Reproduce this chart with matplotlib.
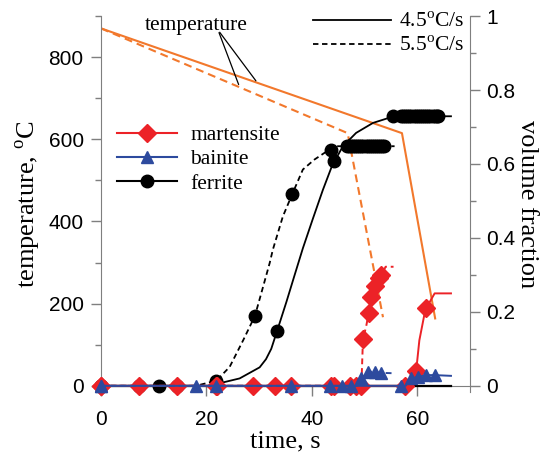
import matplotlib
matplotlib.use('Agg')
from matplotlib import pyplot as plt
from matplotlib.lines import Line2D
from matplotlib.ticker import MultipleLocator, FuncFormatter

########################################################################################################################
# Dados lidos do grafico
# temperatura (eixo esquerdo)
t_temp45 = [0, 57.1, 63.4]
temp45 = [870, 615, 164]
t_temp55 = [0, 46.8, 53.5]
temp55 = [870, 615, 167]

# ferrita - linhas
t_fer45 = [0, 21.9, 22.5, 26.3, 30.1, 31.3, 32.3, 33.4, 35.2, 36.7, 38.3, 40.2, 42.1, 43.7, 44.3, 45.9, 48.4, 51.6,
           54.7, 55.4, 57.0, 64.2, 66.4]
f_fer45 = [0, 0, 0.007, 0.02, 0.05, 0.072, 0.1, 0.148, 0.228, 0.298, 0.372, 0.452, 0.53, 0.59, 0.607, 0.648, 0.684,
           0.711, 0.725, 0.729, 0.729, 0.729, 0.729]
t_fer55 = [0, 18.0, 21.9, 24.4, 27.0, 29.2, 30.4, 32.0, 32.6, 34.5, 36.3, 38.3, 40.5, 42.4, 43.7, 44.6, 46.6, 53.7,
           55.7]
f_fer55 = [0, 0, 0.014, 0.051, 0.124, 0.189, 0.25, 0.332, 0.368, 0.458, 0.519, 0.585, 0.612, 0.63, 0.639, 0.648,
           0.648, 0.648, 0.648]
# ferrita - marcadores
mt_fer45 = [0, 11.0, 21.9, 33.4, 44.3, 55.4, 56.9, 57.3, 57.7, 58.1, 58.5, 58.9, 59.3, 59.7, 60.1, 60.5, 60.9, 61.3,
            61.7, 62.1, 62.5, 62.9, 63.3, 63.7, 64.0]
mf_fer45 = [0, 0, 0, 0.148, 0.607] + [0.729] * 20
mt_fer55 = [0, 7.3, 14.5, 21.9, 29.2, 36.3, 43.7, 46.6, 47.0, 47.4, 47.8, 48.2, 48.6, 49.0, 49.4, 49.8, 50.2, 50.6,
            51.0, 51.4, 51.8, 52.2, 52.6, 53.0, 53.4, 53.7]
mf_fer55 = [0, 0, 0, 0.014, 0.189, 0.519, 0.639] + [0.648] * 19

# martensita
t_mar45 = [0, 57.6, 59.8, 60.4, 61.4, 61.7, 63.3, 66.4]
f_mar45 = [0, 0, 0.041, 0.123, 0.196, 0.21, 0.25, 0.25]
mt_mar45 = [0, 22.0, 33.1, 44.3, 57.6, 59.8, 61.7]
mf_mar45 = [0, 0, 0, 0, 0, 0.041, 0.21]
t_mar55 = [0, 49.4, 49.7, 50.3, 50.8, 51.3, 51.9, 52.7, 53.2, 54.0, 55.5]
f_mar55 = [0, 0, 0.126, 0.16, 0.198, 0.239, 0.27, 0.291, 0.30, 0.322, 0.322]
mt_mar55 = [0, 7.3, 14.5, 21.8, 28.8, 36.1, 43.7, 47.2, 48.4, 49.4, 49.7, 50.8, 51.3, 51.9, 52.7, 53.2]
mf_mar55 = [0, 0, 0, 0, 0, 0, 0, 0, 0, 0, 0.126, 0.198, 0.239, 0.27, 0.291, 0.30]

# bainita
t_bai45 = [0, 57.8, 58.8, 60.1, 61.7, 63.3, 66.4]
f_bai45 = [0, 0, 0.02, 0.024, 0.029, 0.029, 0.027]
mt_bai45 = [0, 18.1, 45.8, 57.0, 58.8, 60.1, 61.7, 63.3]
mf_bai45 = [0, 0, 0, 0, 0.02, 0.024, 0.029, 0.029]
t_bai55 = [0, 48.5, 49.4, 50.6, 51.9, 53.2, 55.7]
f_bai55 = [0, 0, 0.02, 0.038, 0.038, 0.035, 0.034]
mt_bai55 = [0, 21.8, 36.1, 43.4, 47.5, 49.4, 50.6, 51.9, 53.2]
mf_bai55 = [0, 0, 0, 0, 0, 0.02, 0.038, 0.038, 0.035]

# fase restante (linha preta em zero)
t_zero = [0, 66.4]
f_zero = [0, 0]
########################################################################################################################
# Estilo
plt.rcParams['font.family'] = ['Liberation Sans', 'DejaVu Sans']
plt.rcParams['mathtext.fontset'] = 'custom'
plt.rcParams['mathtext.rm'] = 'Liberation Serif'
serif = ['Liberation Serif', 'DejaVu Serif']

laranja = '#F2782C'
vermelho = '#EC2227'
azul = '#2D4A9E'
cinza = '#7F7F7F'
tr_sol = '-'
tr_orange = (0, (3.8, 2.4))
tr_dash = (0, (3.0, 2.0))
ms_d, ms_t, ms_o = 9.2, 8.6, 9.0
########################################################################################################################
fig = plt.figure(figsize=(5.49, 4.59), dpi=100)
ax = fig.add_axes([0.184, 0.146, 0.672, 0.819])
ax2 = ax.twinx()

# temperatura
ax.plot(t_temp45, temp45, color=laranja, lw=1.5, ls=tr_sol)
ax.plot(t_temp55, temp55, color=laranja, lw=1.5, ls=tr_orange)
ax.set_xlim(0, 70)
ax.set_ylim(-15, 900)

# fracoes
ax2.plot(t_zero, f_zero, color='black', lw=1.6)
ax2.plot(t_fer45, f_fer45, color='black', lw=1.3, ls=tr_sol)
ax2.plot(t_fer55, f_fer55, color='black', lw=1.3, ls=tr_dash)
ax2.plot(mt_fer45, mf_fer45, 'o', color='black', ms=ms_o, clip_on=False)
ax2.plot(mt_fer55, mf_fer55, 'o', color='black', ms=ms_o, clip_on=False)

ax2.plot(t_mar45, f_mar45, color=vermelho, lw=1.4, ls=tr_sol)
ax2.plot(t_mar55, f_mar55, color=vermelho, lw=1.4, ls=tr_dash)
ax2.plot(mt_mar45, mf_mar45, 'D', color=vermelho, ms=ms_d, clip_on=False)
ax2.plot(mt_mar55, mf_mar55, 'D', color=vermelho, ms=ms_d, clip_on=False)

ax2.plot(t_bai45, f_bai45, color=azul, lw=1.4, ls=tr_sol)
ax2.plot(t_bai55, f_bai55, color=azul, lw=1.4, ls=tr_dash)
ax2.plot(mt_bai45, mf_bai45, '^', color=azul, ms=ms_t, clip_on=False)
ax2.plot(mt_bai55, mf_bai55, '^', color=azul, ms=ms_t, clip_on=False)
ax2.set_ylim(-15 / 900, 1)

# eixos
for a in (ax, ax2):
    for s in a.spines.values():
        s.set_color(cinza)
    a.spines['top'].set_visible(False)
ax.spines['right'].set_visible(False)
ax2.spines['left'].set_visible(False)
ax2.spines['bottom'].set_visible(False)
ax.spines['bottom'].set_position(('data', 0))

ax.set_xticks([0, 20, 40, 60])
ax.yaxis.set_major_locator(MultipleLocator(200))
ax.yaxis.set_minor_locator(MultipleLocator(100))
ax2.yaxis.set_major_locator(MultipleLocator(0.2))
ax2.yaxis.set_minor_locator(MultipleLocator(0.1))
ax2.yaxis.set_major_formatter(FuncFormatter(lambda v, p: '%g' % round(v, 2)))
ax.tick_params(axis='both', which='major', length=7.5, width=1, color=cinza, labelsize=15, pad=5)
ax.tick_params(axis='x', pad=10)
ax.tick_params(axis='y', which='minor', length=4, width=1, color=cinza)
ax2.tick_params(axis='y', which='major', length=7, width=1, color=cinza, labelsize=15, pad=5)
ax2.tick_params(axis='y', which='minor', length=4, width=1, color=cinza)

ax.set_xlabel('time, s', family=serif, fontsize=19, labelpad=1)
ax.set_ylabel(r'temperature, $^{\mathrm{o}}$C', family=serif, fontsize=19, labelpad=4)
ax2.set_ylabel('volume fraction', family=serif, fontsize=19, rotation=270, labelpad=16)

# anotacao temperatura
ax.text(18.0, 878, 'temperature', family=serif, fontsize=15.5, ha='center', va='center')
ax.annotate('', xy=(26.3, 727), xytext=(22.2, 866), arrowprops=dict(arrowstyle='-', color='black', lw=0.9))
ax.annotate('', xy=(29.7, 737), xytext=(22.2, 866), arrowprops=dict(arrowstyle='-', color='black', lw=0.9))

# legendas
h1 = [Line2D([], [], color=vermelho, lw=1.5, marker='D', ms=ms_d),
      Line2D([], [], color=azul, lw=1.5, marker='^', ms=ms_t),
      Line2D([], [], color='black', lw=1.5, marker='o', ms=ms_o)]
leg1 = ax2.legend(h1, ['martensite', 'bainite', 'ferrite'], loc='upper left',
                  bbox_to_anchor=(117 / 549, 1 - 125 / 459), bbox_transform=fig.transFigure,
                  frameon=False, borderpad=0, borderaxespad=0, handlelength=2.8, handletextpad=0.6,
                  labelspacing=0.2, prop={'family': serif, 'size': 15.5})
ax2.add_artist(leg1)
h2 = [Line2D([], [], color='black', lw=1.3, ls=tr_sol),
      Line2D([], [], color='black', lw=1.3, ls=tr_dash)]
ax2.legend(h2, [r'4.5$^{\mathrm{o}}$C/s', r'5.5$^{\mathrm{o}}$C/s'], loc='upper left',
           bbox_to_anchor=(313 / 549, 1 - 12 / 459), bbox_transform=fig.transFigure,
           frameon=False, borderpad=0, borderaxespad=0, handlelength=3.6, handletextpad=0.4,
           labelspacing=0.2, prop={'family': serif, 'size': 15.5})

plt.savefig('out.png', dpi=100)
